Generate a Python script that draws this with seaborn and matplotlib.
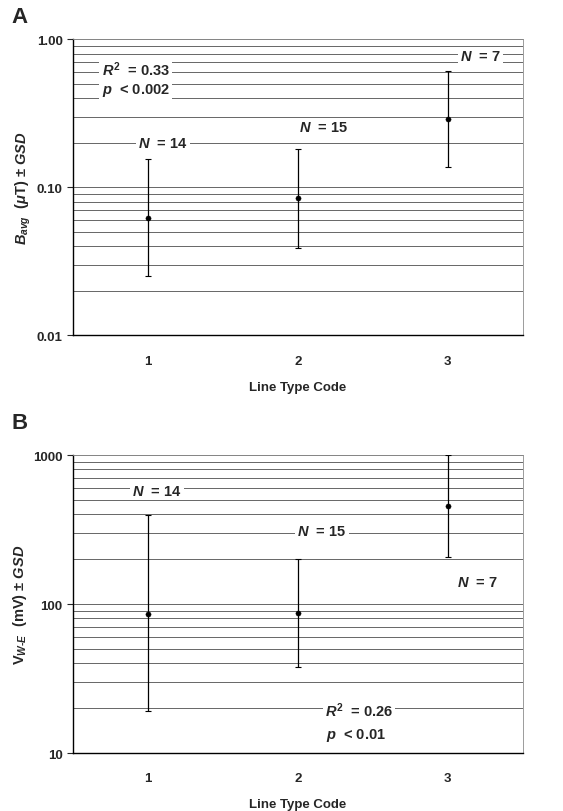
import numpy as np
import pandas as pd
import seaborn as sns
import matplotlib.pyplot as plt
from matplotlib.ticker import LogLocator, NullFormatter, FixedLocator, FixedFormatter

# Data (geometric means and mean*/÷GSD bounds)
codes = [1, 2, 3]
b_mean = [0.062, 0.085, 0.29]
b_low = [0.025, 0.039, 0.137]
b_high = [0.156, 0.182, 0.61]
b_n = [14, 15, 7]

v_mean = [86, 87, 453]
v_low = [19, 38, 208]
v_high = [394, 199, 1000]
v_n = [14, 15, 7]

sns.set_style("white")
plt.rcParams['font.family'] = ['Liberation Sans', 'DejaVu Sans']
plt.rcParams['font.weight'] = 'bold'
plt.rcParams['mathtext.fontset'] = 'custom'
plt.rcParams['mathtext.rm'] = 'Liberation Sans:bold'
plt.rcParams['mathtext.it'] = 'Liberation Sans:italic:bold'
plt.rcParams['mathtext.bf'] = 'Liberation Sans:bold'

fig = plt.figure(figsize=(5.63, 8.12), dpi=100)
ax_a = fig.add_axes([0.1297, 0.586, 0.799, 0.3645])
ax_b = fig.add_axes([0.1297, 0.0714, 0.799, 0.367])


def draw_panel(ax, means, low, high, ylim, ticks, ticklabels, ylabel):
    df = pd.DataFrame({'code': codes, 'mean': means, 'low': low, 'high': high})
    ax.set_yscale('log')
    ax.set_ylim(*ylim)
    ax.set_xlim(0.5, 3.5)
    # horizontal grid at every decade subdivision
    ax.yaxis.set_major_locator(FixedLocator(ticks))
    ax.yaxis.set_major_formatter(FixedFormatter(ticklabels))
    ax.yaxis.set_minor_locator(LogLocator(base=10, subs=np.arange(2, 10)))
    ax.yaxis.set_minor_formatter(NullFormatter())
    ax.grid(True, axis='y', which='both', color='0.4', linewidth=0.7)
    ax.grid(False, axis='x')
    ax.set_axisbelow(True)
    ax.errorbar(df['code'], df['mean'],
                yerr=[df['mean'] - df['low'], df['high'] - df['mean']],
                fmt='none', ecolor='black', elinewidth=0.9, capsize=2, capthick=0.8, zorder=3)
    sns.scatterplot(data=df, x='code', y='mean', ax=ax, color='black', s=14,
                    edgecolor='black', zorder=4, legend=False)
    ax.set_xticks(codes)
    ax.set_xticklabels([str(c) for c in codes])
    ax.tick_params(axis='x', length=0, pad=14, labelsize=9.5)
    ax.tick_params(axis='y', which='major', length=4, direction='out', labelsize=9.5, left=True)
    ax.tick_params(axis='y', which='minor', length=0)
    ax.set_xlabel('Line Type Code', fontsize=9.5, fontweight='bold', labelpad=10)
    ax.set_ylabel(ylabel, fontsize=10.5, fontweight='bold', labelpad=3)
    for s in ['left', 'bottom']:
        ax.spines[s].set_color('black')
        ax.spines[s].set_linewidth(1.0)
    for s in ['top', 'right']:
        ax.spines[s].set_color('0.55')
        ax.spines[s].set_linewidth(0.6)


draw_panel(ax_a, b_mean, b_low, b_high, (0.01, 1.0), [0.01, 0.1, 1.0],
           ['0.01', '0.10', '1.00'], r'$B_{avg}$  ($\mu$T) ± $GSD$')
draw_panel(ax_b, v_mean, v_low, v_high, (10, 1000), [10, 100, 1000],
           ['10', '100', '1000'], r'V$_{W\text{-}E}$  (mV) ± $GSD$')

box = dict(facecolor='white', edgecolor='none', pad=1.5)
txt = dict(fontsize=10.5, fontweight='bold', va='center', bbox=box, zorder=5)

# Panel A annotations
ax_a.text(0.69, 0.63, r'$R^2$  = 0.33', ha='left', **txt)
ax_a.text(0.69, 0.46, r'$p$  < 0.002', ha='left', **txt)
for x, y, n in zip([1.10, 2.17, 3.22], [0.20, 0.254, 0.77], b_n):
    ax_a.text(x, y, rf'$N$  = {n}', ha='center', **txt)

# Panel B annotations
for x, y, n in zip([1.06, 2.16, 3.20], [574, 311, 140], v_n):
    ax_b.text(x, y, rf'$N$  = {n}', ha='center', **txt)
ax_b.text(2.18, 19.5, r'$R^2$  = 0.26', ha='left', **txt)
ax_b.text(2.19, 13.4, r'$p$  < 0.01', ha='left', **txt)

fig.text(0.020, 0.978, 'A', fontsize=16, fontweight='bold', va='center')
fig.text(0.020, 0.479, 'B', fontsize=16, fontweight='bold', va='center')

fig.savefig('out.png', dpi=100)
